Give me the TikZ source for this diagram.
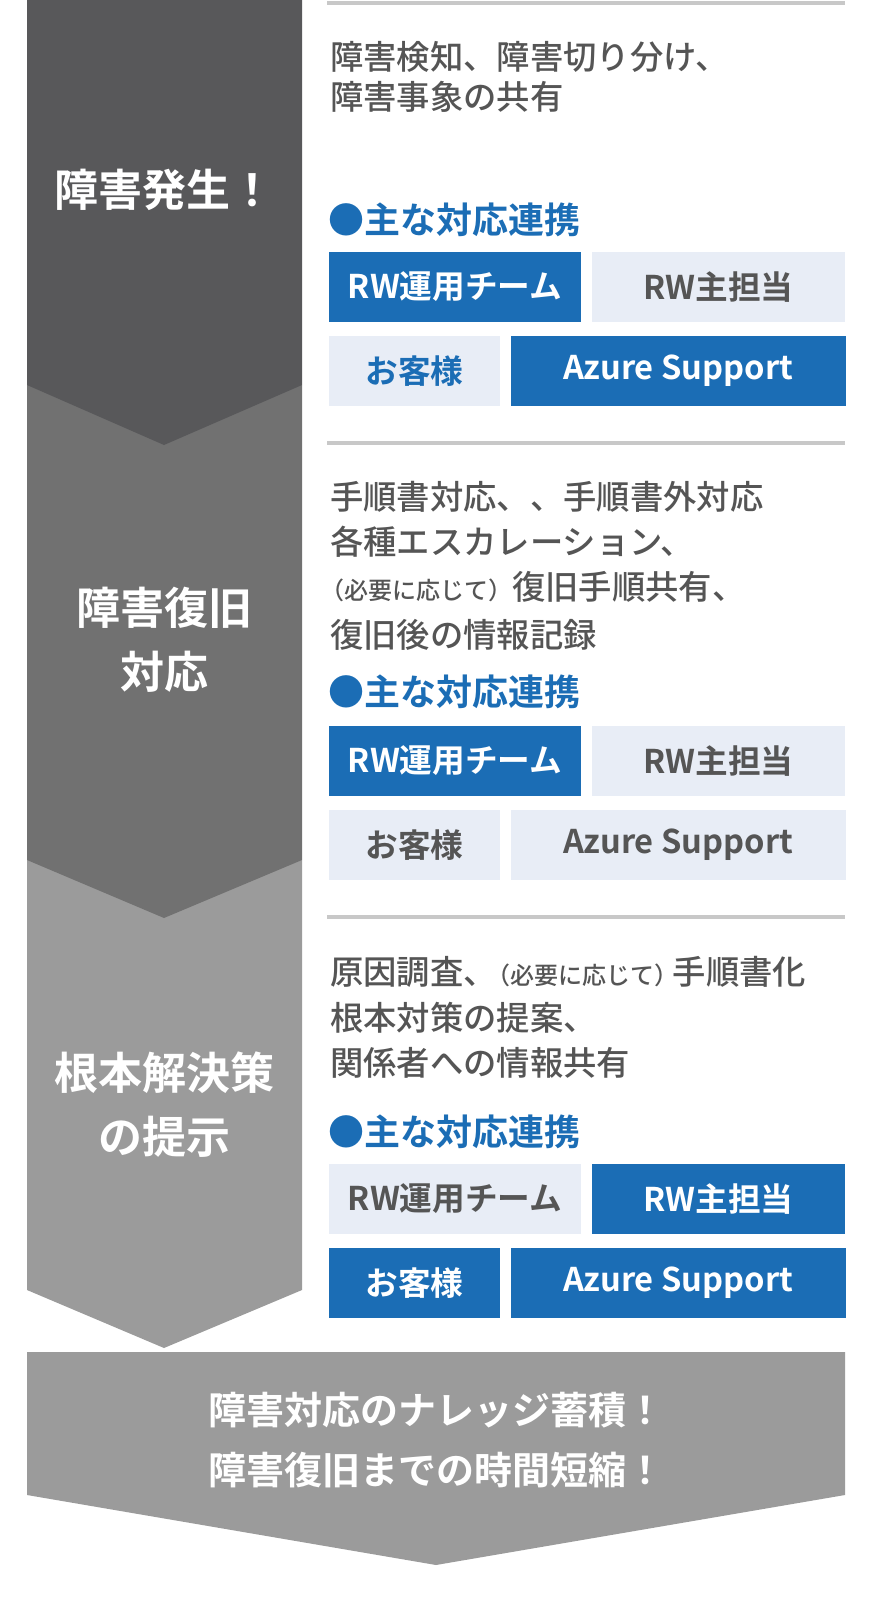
\documentclass[tikz,border=0pt]{standalone}
\usepackage{fontspec}
\newfontfamily\jp{Noto Sans CJK JP Bold}
\newfontfamily\jpm{Noto Sans CJK JP Medium}
\definecolor{d1}{HTML}{58585A}
\definecolor{d2}{HTML}{717171}
\definecolor{d3}{HTML}{9B9B9B}
\definecolor{bl}{HTML}{1B6DB5}
\definecolor{lt}{HTML}{E8EDF6}
\definecolor{gt}{HTML}{555555}
\definecolor{sep}{HTML}{C8C8C8}
\tikzset{
 bb/.style={fill=bl,text=white,font=\jp\fontsize{24.5}{28}\selectfont},
 lb/.style={fill=lt,text=gt,font=\jp\fontsize{24.5}{28}\selectfont},
 lbb/.style={fill=lt,text=bl,font=\jp\fontsize{24.5}{28}\selectfont},
 body/.style={anchor=west,text=gt,font=\jpm\fontsize{25}{29}\selectfont,inner sep=0},
 head/.style={anchor=west,text=bl,font=\jp\fontsize{27}{31}\selectfont,inner sep=0},
 big/.style={text=white,font=\jp\fontsize{33}{48}\selectfont,align=center},
 sepl/.style={draw=sep,line width=3pt}
}
\newcommand{\sm}[1]{{\fontsize{18}{22}\selectfont #1}}
\begin{document}
\begin{tikzpicture}[x=0.75pt,y=-0.75pt]
\useasboundingbox (0,0) rectangle (889,1601);
% left arrows
\fill[d3] (27,860) -- (302,860) -- (302,1290) -- (164,1348) -- (27,1290) -- cycle;
\fill[d2] (27,385) -- (302,385) -- (302,860) -- (164,918) -- (27,860) -- cycle;
\fill[d1] (27,0) -- (302,0) -- (302,385) -- (164,445) -- (27,385) -- cycle;
\fill[d3] (27,1352) -- (845,1352) -- (845,1495) -- (436,1565) -- (27,1495) -- cycle;
\node[big] (t1) at (164,190) {障害発生！};
\node[big] (t2) at (164,640) {障害復旧\\対応};
\node[big] (t3) at (164,1105) {根本解決策\\の提示};
\node[big,font=\jp\fontsize{28.5}{45}\selectfont] (t4) at (436,1440) {障害対応のナレッジ蓄積！\\障害復旧までの時間短縮！};
% section 1
\draw[sepl] (327,3) -- (845,3);
\node[body] (a1) at (330,57) {障害検知、障害切り分け、};
\node[body] (a2) at (330,97) {障害事象の共有};
\node[head] (h1) at (328,220) {●主な対応連携};
\node[bb,minimum width=189pt,minimum height=52.5pt] (b11) at (455,287) {RW運用チーム};
\node[lb,minimum width=189.75pt,minimum height=52.5pt] (b12) at (718.5,287) {RW主担当};
\node[lbb,minimum width=128.25pt,minimum height=52.5pt] (b13) at (414.5,371) {お客様};
\node[bb,minimum width=251.25pt,minimum height=52.5pt] (b14) at (678,371) {Azure Support};
% section 2
\draw[sepl] (327,443) -- (845,443);
\node[body] (c1) at (330,497) {手順書対応、、手順書外対応};
\node[body] (c2) at (330,542) {各種エスカレーション、};
\node[body] (c3) at (320,587) {\sm{（必要に応じて）}復旧手順共有、};
\node[body] (c4) at (330,635) {復旧後の情報記録};
\node[head] (h2) at (328,692) {●主な対応連携};
\node[bb,minimum width=189pt,minimum height=52.5pt] (b21) at (455,761) {RW運用チーム};
\node[lb,minimum width=189.75pt,minimum height=52.5pt] (b22) at (718.5,761) {RW主担当};
\node[lb,minimum width=128.25pt,minimum height=52.5pt] (b23) at (414.5,845) {お客様};
\node[lb,minimum width=251.25pt,minimum height=52.5pt] (b24) at (678,845) {Azure Support};
% section 3
\draw[sepl] (327,917) -- (845,917);
\node[body] (e1) at (330,972) {原因調査、\hspace{-8pt}\sm{（必要に応じて）}\hspace{-4pt}手順書化};
\node[body] (e2) at (330,1018) {根本対策の提案、};
\node[body] (e3) at (330,1063) {関係者への情報共有};
\node[head] (h3) at (328,1132) {●主な対応連携};
\node[lb,minimum width=189pt,minimum height=52.5pt] (b31) at (455,1199) {RW運用チーム};
\node[bb,minimum width=189.75pt,minimum height=52.5pt] (b32) at (718.5,1199) {RW主担当};
\node[bb,minimum width=128.25pt,minimum height=52.5pt] (b33) at (414.5,1283) {お客様};
\node[bb,minimum width=251.25pt,minimum height=52.5pt] (b34) at (678,1283) {Azure Support};
\end{tikzpicture}
\end{document}
